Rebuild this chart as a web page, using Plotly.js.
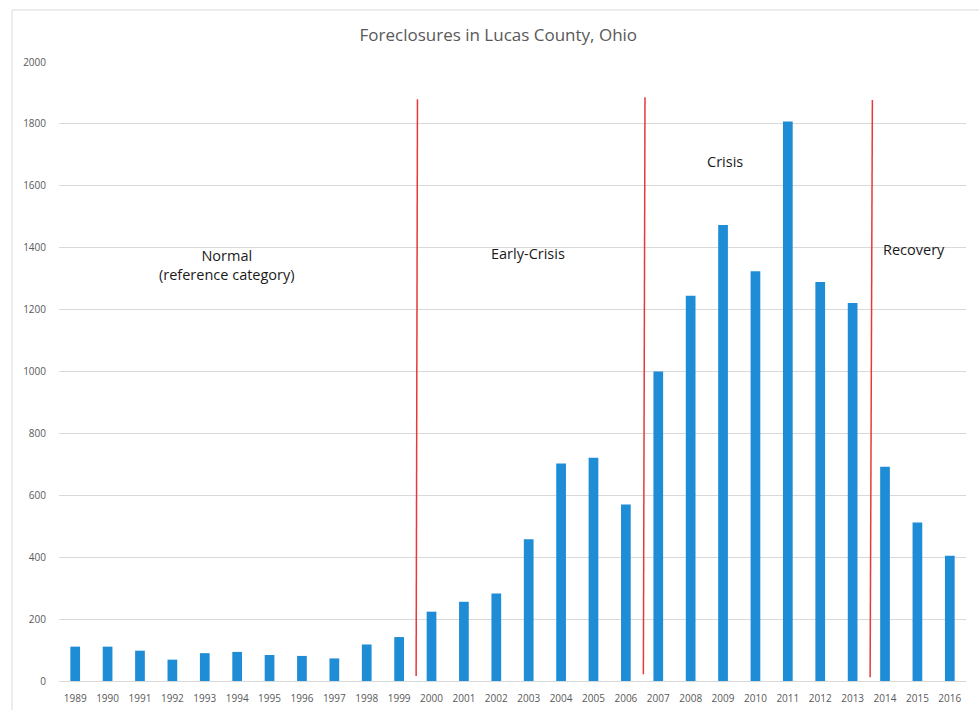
<!DOCTYPE html>
<html>
<head>
<meta charset="utf-8">
<script src="https://cdn.plot.ly/plotly-3.0.1.min.js"></script>
<style>
html,body{margin:0;padding:0;background:#fff;}
#chart{width:979px;height:710px;}
</style>
</head>
<body>
<div id="chart"></div>
<script>
const years = ["1989","1990","1991","1992","1993","1994","1995","1996","1997","1998","1999",
  "2000","2001","2002","2003","2004","2005","2006","2007","2008","2009","2010","2011","2012","2013",
  "2014","2015","2016"];
const foreclosures = [111,111,98,69,90,94,84,81,73,118,142,
  224,256,283,458,703,721,570,1000,1245,1473,1324,1808,1289,1221,
  692,512,405];
const yTicks = [0,200,400,600,800,1000,1200,1400,1600,1800,2000];
const periodLabels = ["Normal<br>(reference category)","Early-Crisis","Crisis","Recovery"];

const FONT = "Open Sans, Liberation Sans, sans-serif";
const GREY = "#595959";

const trace = {
  type: "bar",
  x: years,
  y: foreclosures,
  marker: {color: "#1f8dd6"},
  hoverinfo: "x+y"
};

function redLine(x0, x1, y0, y1) {
  return {type: "line", xref: "x", yref: "y", x0: x0, x1: x1, y0: y0, y1: y1,
    line: {color: "#e8383a", width: 1.5}};
}

const annFont = {family: FONT, size: 14.5, color: "#1a1a1a"};

const layout = {
  width: 979, height: 710,
  margin: {l: 59, r: 13, t: 62, b: 29},
  paper_bgcolor: "#ffffff",
  plot_bgcolor: "#ffffff",
  showlegend: false,
  bargap: 0.7,
  title: {
    text: "Foreclosures in Lucas County, Ohio",
    font: {family: FONT, size: 17, color: GREY},
    x: 0.509, xanchor: "center", y: 0.951, yanchor: "middle"
  },
  xaxis: {
    type: "category",
    showgrid: false, showline: false, zeroline: false,
    ticks: "outside", ticklen: 8, tickcolor: "rgba(0,0,0,0)",
    tickfont: {family: FONT, size: 10, color: GREY},
    tickangle: 0
  },
  yaxis: {
    range: [0, 2000],
    tickvals: yTicks,
    ticktext: yTicks.map(String),
    showgrid: true, gridcolor: "#d9d9d9", gridwidth: 1,
    zeroline: true, zerolinecolor: "#d9d9d9", zerolinewidth: 1,
    showline: false,
    ticks: "outside", ticklen: 10, tickcolor: "rgba(0,0,0,0)",
    tickfont: {family: FONT, size: 10, color: GREY}
  },
  shapes: [
    {type: "rect", xref: "paper", yref: "paper",
     x0: -0.0518, x1: 1.03, y0: -0.06, y1: 1.084,
     line: {color: "#d9d9d9", width: 1}, fillcolor: "rgba(0,0,0,0)", layer: "below"},
    redLine(10.525, 10.566, 16, 1880),
    redLine(17.54, 17.59, 22, 1886),
    redLine(24.54, 24.61, 12, 1877)
  ],
  annotations: [
    {text: periodLabels[0], x: 4.68, y: 1345, xref: "x", yref: "y", showarrow: false,
     font: annFont, align: "center"},
    {text: periodLabels[1], x: 13.98, y: 1380, xref: "x", yref: "y", showarrow: false,
     font: annFont},
    {text: periodLabels[2], x: 20.06, y: 1678, xref: "x", yref: "y", showarrow: false,
     font: annFont},
    {text: periodLabels[3], x: 25.9, y: 1393, xref: "x", yref: "y", showarrow: false,
     font: annFont}
  ]
};

Plotly.newPlot("chart", [trace], layout, {displayModeBar: false, staticPlot: true});
</script>
</body>
</html>
